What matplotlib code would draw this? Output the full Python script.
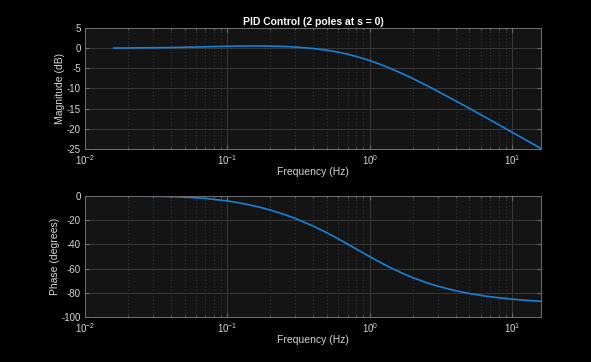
import matplotlib
matplotlib.use("Agg")
import matplotlib.pyplot as plt
from matplotlib.ticker import LogLocator, NullFormatter

plt.rcParams['font.family'] = ['Liberation Sans', 'DejaVu Sans']
plt.rcParams['axes.unicode_minus'] = False

# Data (Hz, dB, degrees)
freq_hz = [0.0159, 0.02, 0.03, 0.04, 0.05, 0.07, 0.1, 0.13, 0.17, 0.2,
           0.25, 0.3, 0.4, 0.5, 0.6, 0.7, 0.85, 1.0, 1.2, 1.4,
           1.7, 2.0, 2.5, 3.0, 4.0, 5.0, 6.5, 8.0, 10.0, 12.5, 15.9]
mag_db = [0.03, 0.05, 0.10, 0.15, 0.22, 0.33, 0.46, 0.52, 0.53, 0.50,
          0.41, 0.28, -0.08, -0.51, -1.00, -1.51, -2.30, -3.08, -4.10, -5.05,
          -6.36, -7.54, -9.25, -10.70, -13.07, -14.94, -17.17, -18.95, -20.88, -22.80, -24.89]
phase_deg = [-0.04, -0.08, -0.24, -0.52, -0.91, -2.01, -4.08, -6.35, -9.40, -11.64,
             -15.21, -18.60, -24.85, -30.45, -35.42, -39.83, -45.49, -50.19, -55.28, -59.32,
             -63.98, -67.49, -71.66, -74.57, -78.30, -80.60, -82.74, -84.09, -85.27, -86.21, -87.03]

mag_ticks = [-25, -20, -15, -10, -5, 0, 5]
phase_ticks = [-100, -80, -60, -40, -20, 0]

LINE_COLOR = '#1b80d6'
TEXT_COLOR = '#d6d6d6'
FACE = '#141414'

fig = plt.figure(figsize=(5.91, 3.62), dpi=100)
fig.patch.set_facecolor('black')
ax_mag = fig.add_axes([0.1438, 0.5884, 0.7716, 0.3343])
ax_ph = fig.add_axes([0.1438, 0.1243, 0.7716, 0.3343])


def style_axes(ax, ticks, ylim):
    ax.set_facecolor(FACE)
    ax.set_xscale('log')
    ax.set_xlim(0.01, 15.9)
    ax.set_ylim(*ylim)
    ax.set_yticks(ticks)
    ax.xaxis.set_major_locator(LogLocator(base=10))
    ax.xaxis.set_minor_locator(LogLocator(base=10, subs=range(2, 10)))
    ax.xaxis.set_minor_formatter(NullFormatter())
    ax.grid(True, which='major', color='#3a3a3a', linewidth=0.7)
    ax.grid(True, which='minor', axis='x', color='#4a4a4a', linewidth=0.6,
            linestyle=(0, (1, 3)))
    ax.set_axisbelow(True)
    for sp in ax.spines.values():
        sp.set_color('#6e6e6e')
        sp.set_linewidth(0.7)
    ax.tick_params(which='both', direction='in', top=True, right=True,
                   colors='#6e6e6e', labelcolor=TEXT_COLOR, labelsize=7)
    ax.tick_params(axis='x', pad=3)
    ax.tick_params(axis='y', pad=3)
    ax.tick_params(which='major', length=3)
    ax.tick_params(which='minor', length=1.5)
    ax.set_xlabel('Frequency (Hz)', color=TEXT_COLOR, fontsize=7.5, labelpad=0)


ax_mag.plot(freq_hz, mag_db, color=LINE_COLOR, linewidth=1.2)
style_axes(ax_mag, mag_ticks, (-25, 5))
ax_mag.set_ylabel('Magnitude (dB)', color=TEXT_COLOR, fontsize=7.5, labelpad=1)
ax_mag.set_title('PID Control (2 poles at s = 0)', color='white', fontsize=7.5,
                 fontweight='bold', pad=2)

ax_ph.plot(freq_hz, phase_deg, color=LINE_COLOR, linewidth=1.2)
style_axes(ax_ph, phase_ticks, (-100, 0))
ax_ph.set_ylabel('Phase (degrees)', color=TEXT_COLOR, fontsize=7.5, labelpad=1)

fig.savefig('out.png', dpi=100, facecolor='black')
plt.close(fig)
